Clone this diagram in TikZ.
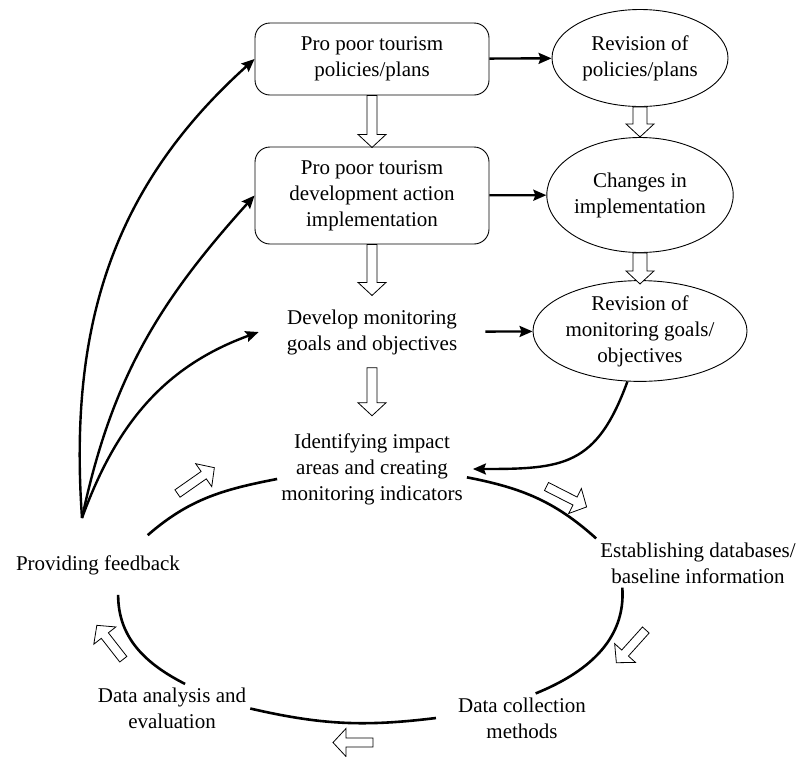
\documentclass[tikz,border=0pt]{standalone}
\usepackage{fontspec}
\setmainfont{Liberation Serif}
\usetikzlibrary{arrows.meta,shapes.geometric}

% hollow block arrow: [shaft half width]{start}{angle}{length}
\newcommand{\blockarrow}[4][5]{%
  \draw[hollow, shift={#2}, rotate=#3] (0,-#1) -- (#4-13,-#1) -- (#4-13,-14) -- (#4,0)
     -- (#4-13,14) -- (#4-13,#1) -- (0,#1) -- cycle;}

\begin{document}
\begin{tikzpicture}[x=1pt,y=1pt,>={Stealth[length=13pt,width=11pt,inset=2pt]},
    every node/.style={font=\fontsize{21}{26}\selectfont,align=center},
    box/.style={draw,line width=0.9pt,rounded corners=15pt,minimum width=234pt,inner sep=4pt},
    oval/.style={draw,line width=0.9pt,ellipse,inner sep=0pt},
    txt/.style={inner sep=4pt},
    link/.style={->,line width=2.4pt},
    cyc/.style={line width=2.6pt},
    hollow/.style={draw,fill=white,line width=0.8pt}]
  \useasboundingbox (0,0) rectangle (799,-756);

  \node[box,minimum height=72pt]  (policy)   at (372,-59)    {Pro poor tourism\\policies/plans};
  \node[box,minimum height=97pt]  (action)   at (372,-195.5) {Pro poor tourism\\development action\\implementation};
  \node[txt,inner xsep=28pt]      (goals)    at (372,-332)   {Develop monitoring\\goals and objectives};
  \node[txt]                      (impact)   at (372,-469)   {Identifying impact\\areas and creating\\monitoring indicators};
  \node[oval,minimum width=176pt,minimum height=97pt]  (revpol)  at (640,-58)  {Revision of\\policies/plans};
  \node[oval,minimum width=186pt,minimum height=115pt] (change)  at (640,-195) {Changes in\\implementation};
  \node[oval,minimum width=214pt,minimum height=97pt]  (revgoal) at (640,-331) {Revision of\\monitoring goals/\\objectives};
  \node[txt]                      (database) at (698,-563)   {Establishing databases/\\baseline information};
  \node[txt,inner xsep=22pt]      (collect)  at (522,-718)   {Data collection\\methods};
  \node[txt]                      (analysis) at (172,-708.5) {Data analysis and\\evaluation};
  \node[txt,inner ysep=20pt]      (feedback) at (98,-565)    {Providing feedback};
  \coordinate (fb) at (82,-518);

  % plan -> revision
  \draw[link] (policy) -- (revpol);
  \draw[link] (action) -- (change);
  \draw[link] (goals) -- (revgoal);
  \draw[link] (revgoal.256) to[out=250,in=0,looseness=1.3] ([xshift=6pt]impact.east);

  % feedback
  \draw[link] (fb) to[out=94,in=222] (policy.west);
  \draw[link] (fb) to[out=78,in=228] (action.west);
  \draw[link] (fb) to[out=70,in=200] (goals.west);

  % monitoring cycle
  \draw[cyc] (feedback.31) to[out=41,in=191] (impact.186);
  \draw[cyc] (impact.355) to[out=-11,in=138] (database.north west);
  \draw[cyc] (database.198) to[out=-86,in=22] (collect.61);
  \draw[cyc] (collect.west) to[out=187,in=-13] (analysis.east);
  \draw[cyc] (analysis.62) to[out=153,in=270] (feedback.304);

  \blockarrow{(policy.south)}{-90}{52}
  \blockarrow{(action.south)}{-90}{51}
  \blockarrow{([yshift=-9pt]goals.south)}{-90}{48}
  \blockarrow[7]{(revpol.south)}{-90}{30}
  \blockarrow[7]{(change.south)}{-90}{31}

  \blockarrow[4.5]{(177.5,-493.5)}{35}{45}
  \blockarrow[4.5]{(546.5,-486.5)}{-27}{45}
  \blockarrow[4.5]{(645.8,-630)}{-132}{44}
  \blockarrow[4.5]{(373,-742.5)}{180}{40}
  \blockarrow[4.5]{(123.3,-659.2)}{128}{43}
\end{tikzpicture}
\end{document}
